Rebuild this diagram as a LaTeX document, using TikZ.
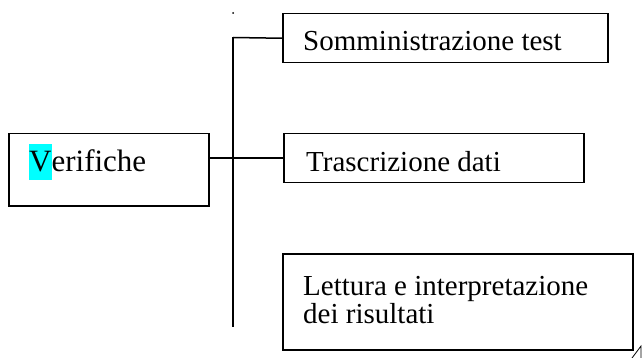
\documentclass[tikz,border=0pt]{standalone}
\usepackage{fontspec}
\setmainfont{Liberation Serif}
\definecolor{hlcyan}{RGB}{0,255,255}
\begin{document}
\begin{tikzpicture}[x=1pt,y=-1pt,
  box/.style={draw, line width=1.5pt, inner sep=0pt, anchor=north west},
  lbl/.style={anchor=base west, inner sep=0pt, font=\fontsize{29}{28.3}\selectfont, align=left},
  conn/.style={line width=1.5pt}]
\useasboundingbox (0,0) rectangle (642,358);
% boxes
\node[box, minimum width=200pt, minimum height=72pt] (verif) at (8,133) {};
\node[box, minimum width=325pt, minimum height=49pt] (somm) at (282,13) {};
\node[box, minimum width=300pt, minimum height=49pt] (trasc) at (283,133) {};
\node[box, minimum width=350pt, minimum height=96pt] (lett) at (282,253) {};
% texts
\node[lbl, font=\fontsize{31}{32}\selectfont] (tverif) at (29,172) {{\fboxsep=0pt\colorbox{hlcyan}{\rule[-8pt]{0pt}{36pt}V}}erifiche};
\node[lbl] (tsomm) at (303,51) {Somministrazione test};
\node[lbl] (ttrasc) at (306,172) {Trascrizione dati};
\node[lbl, anchor=north west] (tlett) at (303,276) {\fontsize{29}{28.3}\selectfont Lettura e interpretazione\\dei risultati};
% connectors
\coordinate (vtop) at (233,37.5);
\coordinate (vbot) at (233,327);
\draw[conn] (vtop) -- (vbot);
\draw[conn] (vtop) -- (somm.west);
\draw[conn] (verif.east |- trasc.west) -- (trasc.west);
% stray dot
\node[fill, circle, inner sep=0pt, minimum size=2pt] (dot) at (233,13) {};
% small triangle mark
\coordinate (ta) at (632,358);
\coordinate (tb) at (641,346);
\coordinate (tc) at (641,358);
\draw[line width=0.8pt] (ta) -- (tb) -- (tc);
\end{tikzpicture}
\end{document}
